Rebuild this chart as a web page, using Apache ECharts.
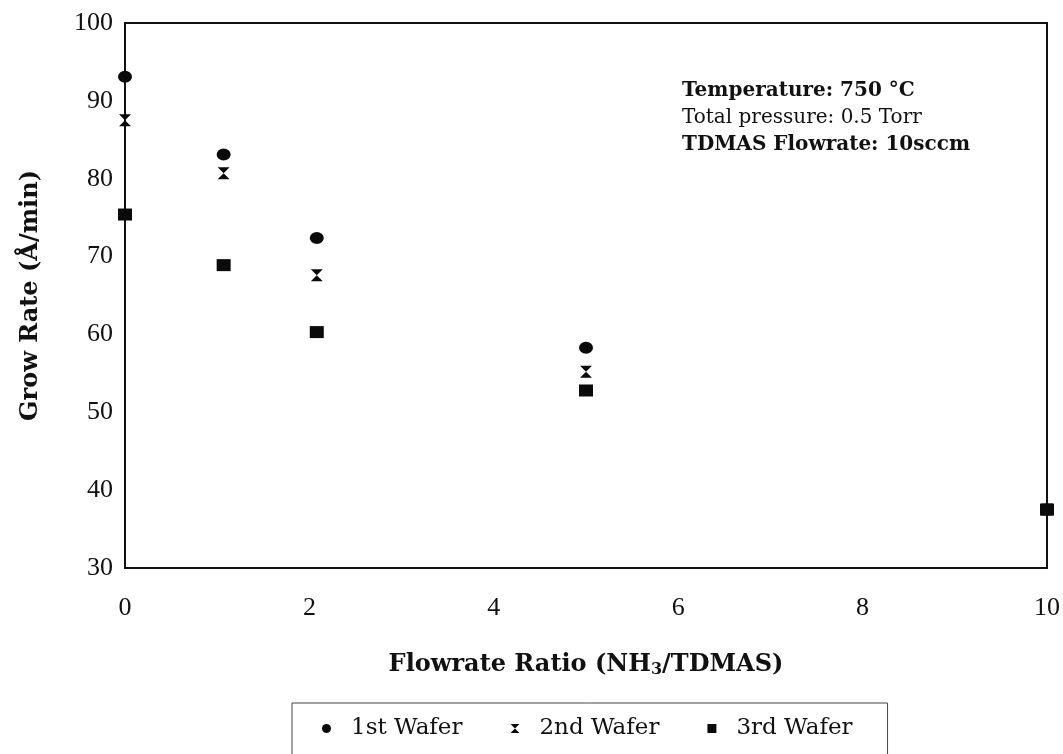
<!DOCTYPE html>
<html>
<head>
<meta charset="utf-8">
<script src="https://cdn.jsdelivr.net/npm/echarts@6/dist/echarts.min.js"></script>
<style>
  html, body { margin: 0; padding: 0; background: #fff; }
  #chart { width: 1063px; height: 754px; }
</style>
</head>
<body>
<div id="chart"></div>
<script>
// flowrate ratio NH3/TDMAS
const ratios = [0, 1.07, 2.08, 5, 10]
const wafer1 = [93.1, 83.1, 72.4, 58.3, 37.5]
const wafer2 = [87.5, 80.7, 67.6, 55.2, 37.5]
const wafer3 = [75.4, 68.9, 60.3, 52.8, 37.5]
const seriesNames = ['1st Wafer', '2nd Wafer', '3rd Wafer']
const notes = ['Temperature: 750 °C', 'Total pressure: 0.5 Torr', 'TDMAS Flowrate: 10sccm']

const serif = '"Liberation Serif", "DejaVu Serif", serif'
const wide = '"DejaVu Serif", "Liberation Serif", serif'
const hourglass = 'path://M0,0 L10,0 L5,5 L10,10 L0,10 L5,5 Z'
const ink = '#0a0a0a'

const pairs = (ys) => ratios.map((x, i) => [x, ys[i]])

const chart = echarts.init(document.getElementById('chart'))
chart.setOption({
  backgroundColor: '#fff',
  animation: false,
  grid: {
    left: 125, right: 16, top: 23, bottom: 186,
    show: true, borderColor: '#111', borderWidth: 2
  },
  graphic: [{
    type: 'text',
    left: 682, top: 81,
    style: {
      text: '{b|' + notes[0] + '}\n{n|' + notes[1] + '}\n{b|' + notes[2] + '}',
      rich: {
        b: { fontFamily: wide, fontSize: 20, fontWeight: 'bold', lineHeight: 27, fill: '#111' },
        n: { fontFamily: wide, fontSize: 20, lineHeight: 27, fill: '#111' }
      }
    }
  }],
  legend: {
    data: seriesNames,
    left: 292, top: 703,
    orient: 'horizontal',
    itemGap: 48,
    itemWidth: 9, itemHeight: 9,
    padding: [14, 35, 40, 30],
    borderColor: '#444', borderWidth: 1,
    textStyle: { fontFamily: wide, fontSize: 23, color: '#111', padding: [0, 0, 0, 15] }
  },
  xAxis: {
    type: 'value',
    min: 0, max: 10, interval: 2,
    name: '{t|Flowrate Ratio (NH}{s|3}{t|/TDMAS)}',
    nameLocation: 'middle',
    nameGap: 84,
    nameTextStyle: {
      rich: {
        t: { fontFamily: wide, fontSize: 24, fontWeight: 'bold', color: '#111' },
        s: { fontFamily: wide, fontSize: 16, fontWeight: 'bold', color: '#111', padding: [10, 0, 0, 0] }
      }
    },
    axisLine: { lineStyle: { color: '#111', width: 2 } },
    axisTick: { show: false },
    splitLine: { show: false },
    axisLabel: { fontFamily: serif, fontSize: 26, color: '#111', margin: 27 }
  },
  yAxis: {
    type: 'value',
    min: 30, max: 100, interval: 10,
    name: 'Grow Rate (Å/min)',
    nameLocation: 'middle',
    nameGap: 82,
    nameTextStyle: { fontFamily: wide, fontSize: 24, fontWeight: 'bold', color: '#111' },
    axisLine: { lineStyle: { color: '#111', width: 2 } },
    axisTick: { show: false },
    splitLine: { show: false },
    axisLabel: { fontFamily: serif, fontSize: 26, color: '#111', margin: 12 }
  },
  series: [
    {
      name: seriesNames[0], type: 'scatter', data: pairs(wafer1),
      symbol: 'circle', symbolSize: [14, 12],
      itemStyle: { color: ink, opacity: 1 }
    },
    {
      name: seriesNames[1], type: 'scatter', data: pairs(wafer2),
      symbol: hourglass, symbolSize: [12, 12],
      itemStyle: { color: ink, opacity: 1 }
    },
    {
      name: seriesNames[2], type: 'scatter', data: pairs(wafer3),
      symbol: 'rect', symbolSize: [14, 12],
      itemStyle: { color: ink, opacity: 1 }
    }
  ]
})
</script>
</body>
</html>
